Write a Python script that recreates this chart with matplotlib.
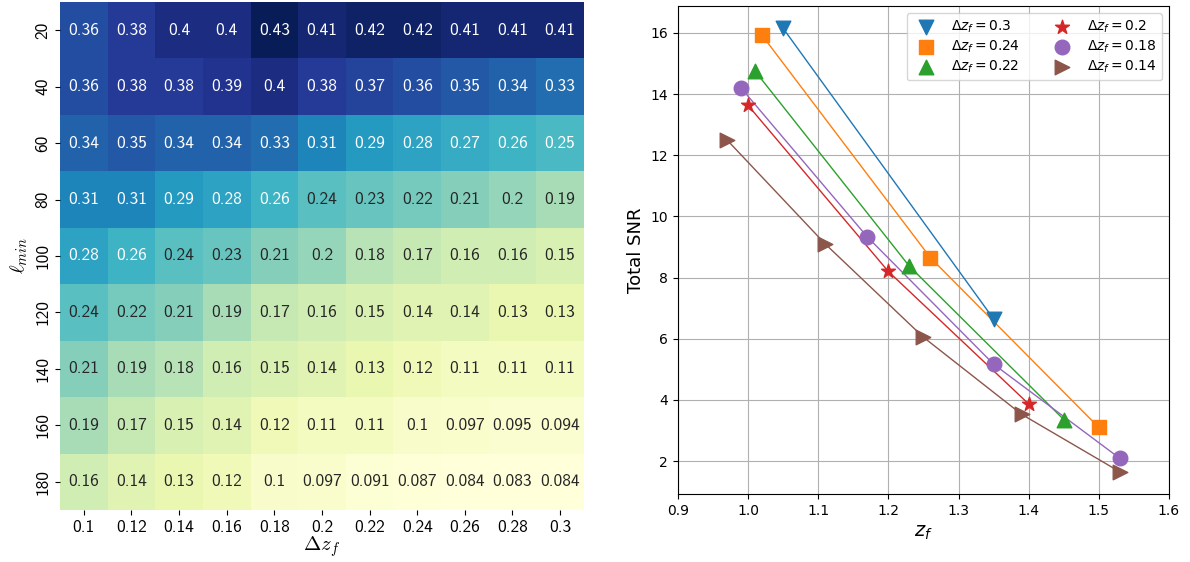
import matplotlib
matplotlib.use("Agg")
import matplotlib.pyplot as plt
import numpy as np
import pandas as pd
import seaborn as sns

# heatmap data: rows = l_min, columns = delta z_f
ell_min = [20, 40, 60, 80, 100, 120, 140, 160, 180]
dzf = [0.1, 0.12, 0.14, 0.16, 0.18, 0.2, 0.22, 0.24, 0.26, 0.28, 0.3]
row_20 = [0.36, 0.38, 0.4, 0.4, 0.43, 0.41, 0.42, 0.42, 0.41, 0.41, 0.41]
row_40 = [0.36, 0.38, 0.38, 0.39, 0.4, 0.38, 0.37, 0.36, 0.35, 0.34, 0.33]
row_60 = [0.34, 0.35, 0.34, 0.34, 0.33, 0.31, 0.29, 0.28, 0.27, 0.26, 0.25]
row_80 = [0.31, 0.31, 0.29, 0.28, 0.26, 0.24, 0.23, 0.22, 0.21, 0.2, 0.19]
row_100 = [0.28, 0.26, 0.24, 0.23, 0.21, 0.2, 0.18, 0.17, 0.16, 0.16, 0.15]
row_120 = [0.24, 0.22, 0.21, 0.19, 0.17, 0.16, 0.15, 0.14, 0.14, 0.13, 0.13]
row_140 = [0.21, 0.19, 0.18, 0.16, 0.15, 0.14, 0.13, 0.12, 0.11, 0.11, 0.11]
row_160 = [0.19, 0.17, 0.15, 0.14, 0.12, 0.11, 0.11, 0.1, 0.097, 0.095, 0.094]
row_180 = [0.16, 0.14, 0.13, 0.12, 0.1, 0.097, 0.091, 0.087, 0.084, 0.083, 0.084]

# SNR vs z_f for each delta z_f
labels = ["0.3", "0.24", "0.22", "0.2", "0.18", "0.14"]
markers = ["v", "s", "^", "*", "o", ">"]
zf_03 = [1.05, 1.35]
snr_03 = [16.15, 6.65]
zf_024 = [1.02, 1.26, 1.50]
snr_024 = [15.92, 8.65, 3.1]
zf_022 = [1.01, 1.23, 1.45]
snr_022 = [14.75, 8.37, 3.36]
zf_02 = [1.0, 1.2, 1.4]
snr_02 = [13.63, 8.2, 3.87]
zf_018 = [0.99, 1.17, 1.35, 1.53]
snr_018 = [14.2, 9.33, 5.17, 2.09]
zf_014 = [0.97, 1.11, 1.25, 1.39, 1.53]
snr_014 = [12.5, 9.1, 6.05, 3.53, 1.65]

zf_all = [zf_03, zf_024, zf_022, zf_02, zf_018, zf_014]
snr_all = [snr_03, snr_024, snr_022, snr_02, snr_018, snr_014]

fig = plt.figure(figsize=(11.9, 5.62), dpi=100)
ax1 = fig.add_axes([0.0504, 0.0925, 0.4403, 0.904])
ax2 = fig.add_axes([0.5697, 0.121, 0.4126, 0.868])

# left: heatmap
df = pd.DataFrame([row_20, row_40, row_60, row_80, row_100, row_120,
                   row_140, row_160, row_180], index=ell_min, columns=dzf)
sns.heatmap(df, ax=ax1, cmap="YlGnBu", annot=True, cbar=False,
            annot_kws={"fontfamily": "cmss10", "fontsize": 12.5})
ax1.set_xticklabels([str(v) for v in dzf], fontfamily="cmss10", fontsize=12.5)
ax1.set_yticklabels([str(v) for v in ell_min], fontfamily="cmss10",
                    fontsize=12.5, rotation=90, va="center")
ax1.set_xlabel(r"$\Delta z_f$", fontsize=15, math_fontfamily="cm", labelpad=0)
ax1.set_ylabel(r"$\ell_{min}$", fontsize=15, math_fontfamily="cm")

# right: total SNR
colors = plt.rcParams["axes.prop_cycle"].by_key()["color"]
for i in range(len(labels)):
    ax2.plot(zf_all[i], snr_all[i], color=colors[i], linewidth=1, zorder=2)
    ax2.scatter(zf_all[i], snr_all[i], color=colors[i], marker=markers[i],
                s=110, zorder=3, label=r"$\Delta z_f = %s$" % labels[i])
ax2.set_xlim(0.9, 1.6)
ax2.grid(True)
ax2.set_axisbelow(True)
ax2.tick_params(labelsize=10)
ax2.set_xlabel(r"$z_f$", fontsize=14)
ax2.set_ylabel("Total SNR", fontsize=13)
ax2.legend(loc="upper right", ncol=2, fontsize=10, labelspacing=0.25)

fig.savefig("out.png", dpi=100)
